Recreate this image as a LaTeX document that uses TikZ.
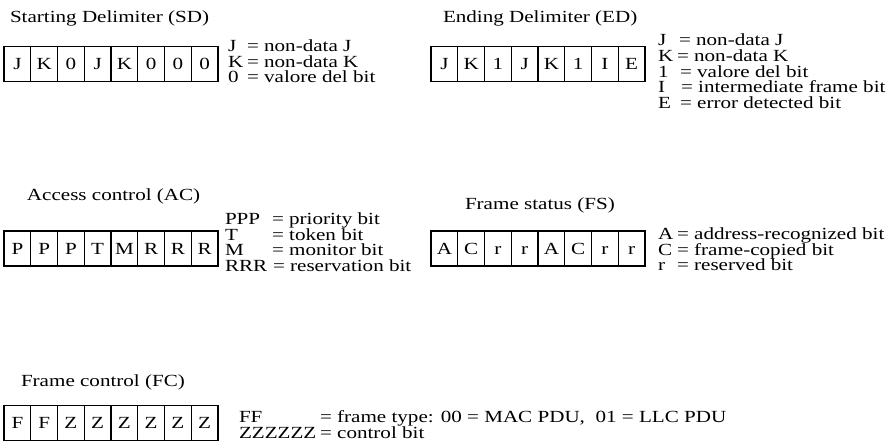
\documentclass[tikz,border=0pt]{standalone}
\usepackage{fontspec}
\setmainfont{Liberation Serif}[FakeStretch=1.24]
\newcommand\myregister[4]{%
  \foreach \l [count=\i] in {#4} {
    \node[cell] (#1\i) at ({#2+(\i-0.5)*26.75}, #3) {\l};
  }%
}
\newcommand\myline[6]{%
  \node[lbl] (#1k) at (#2,#4) {#5};
  \node[lbl] (#1v) at (#3,#4) {#6};
}
\begin{document}
\begin{tikzpicture}[x=1pt,y=-1pt,
  every node/.style={font=\fontsize{17}{20}\selectfont, inner sep=0pt, outer sep=0pt},
  cell/.style={draw, line width=1.2pt, minimum width=26.75pt, minimum height=35pt,
               text height=11.3pt, text depth=0pt},
  lbl/.style={anchor=base west}]
\fill[white] (0,0) rectangle (893,441);
\useasboundingbox (0,0) rectangle (893,441);

% Starting Delimiter
\node[lbl] (sdt) at (10,22.6) {Starting Delimiter (SD)};
\myregister{sd}{4}{64}{J,K,0,J,K,0,0,0}
\myline{sda}{228}{247}{51.6}{J}{= non-data J}
\myline{sdb}{228}{247}{67.1}{K}{= non-data K}
\myline{sdc}{228}{247}{82.6}{0}{= valore del bit}

% Ending Delimiter
\node[lbl] (edt) at (443,22.6) {Ending Delimiter (ED)};
\myregister{ed}{431}{64}{J,K,1,J,K,1,I,E}
\myline{eda}{658}{679}{45.6}{J}{= non-data J}
\myline{edb}{658}{677}{61.35}{K}{= non-data K}
\myline{edc}{658}{680}{77.1}{1}{= valore del bit}
\myline{edd}{658}{681}{92.85}{I}{= intermediate frame bit}
\myline{ede}{658}{680}{108.6}{E}{= error detected bit}

% Access control
\node[lbl] (act) at (27,200.6) {Access control (AC)};
\myregister{ac}{4}{248.5}{P,P,P,T,M,R,R,R}
\myline{aca}{225}{272}{224.6}{PPP}{= priority bit}
\myline{acb}{225}{272}{240.1}{T}{= token bit}
\myline{acc}{225}{272}{255.6}{M}{= monitor bit}
\myline{acd}{225}{273}{271.1}{RRR}{= reservation bit}

% Frame status
\node[lbl] (fst) at (465,209.6) {Frame status (FS)};
\myregister{fs}{431}{248.5}{A,C,r,r,A,C,r,r}
\myline{fsa}{658}{677}{239.6}{A}{= address-recognized bit}
\myline{fsb}{658}{677}{255.1}{C}{= frame-copied bit}
\myline{fsc}{658}{677}{270.6}{r}{= reserved bit}

% Frame control
\node[lbl] (fct) at (21,386.6) {Frame control (FC)};
\myregister{fc}{4}{422.75}{F,F,Z,Z,Z,Z,Z,Z}
\myline{fca}{239}{320}{422.4}{FF}{= frame type: 00 = MAC PDU,\ \ 01 = LLC PDU}
\myline{fcb}{239}{320}{438.4}{ZZZZZZ}{= control bit}
\end{tikzpicture}
\end{document}
